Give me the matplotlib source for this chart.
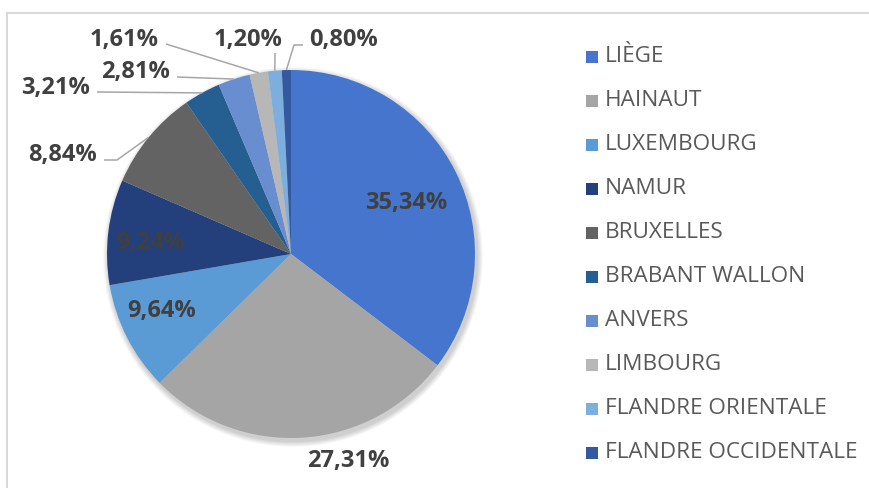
import numpy as np
import matplotlib
matplotlib.use('Agg')
from matplotlib import pyplot as plt
from matplotlib.patches import Rectangle, Circle

regions = ['LIÈGE', 'HAINAUT', 'LUXEMBOURG', 'NAMUR', 'BRUXELLES', 'BRABANT WALLON',
           'ANVERS', 'LIMBOURG', 'FLANDRE ORIENTALE', 'FLANDRE OCCIDENTALE']
shares = [35.34, 27.31, 9.64, 9.24, 8.84, 3.21, 2.81, 1.61, 1.20, 0.80]
share_labels = ['35,34%', '27,31%', '9,64%', '9,24%', '8,84%', '3,21%', '2,81%', '1,61%', '1,20%', '0,80%']
colors = ['#4675CD', '#A5A5A5', '#5B9BD5', '#233F7C', '#636363', '#255E91',
          '#698ED0', '#B7B7B7', '#7CAFDD', '#335AA1']

W, H = 870, 488
def py(y):
    return H - y

fig = plt.figure(figsize=(W/100, H/100), dpi=100)
ax = fig.add_axes([0, 0, 1, 1])

cx, cy, r = 291, py(254), 184

# soft shadow
for k in range(8):
    ax.add_patch(Circle((cx + 2, cy - 3), r + 1 + k * 0.7, color='black', alpha=0.025, lw=0))

wedges, _ = ax.pie(shares, colors=colors, startangle=90, counterclock=False,
                   center=(cx, cy), radius=r, frame=True)
ax.set_xlim(0, W)
ax.set_ylim(0, H)
ax.set_aspect('equal')
ax.axis('off')

# frame
ax.plot([7, W], [py(13), py(13)], color='#D9D9D9', lw=1.5)
ax.plot([7, 7], [py(13), 0], color='#D9D9D9', lw=1.5)

lbl_font = dict(family=['Open Sans', 'DejaVu Sans'], fontsize=17, fontweight='bold', color='#404040')

# labels inside / below the pie
inside = {0: (406, 203), 1: (348, 461), 2: (162, 311), 3: (151, 243)}
for i, (x, y) in inside.items():
    ax.text(x, py(y), share_labels[i], ha='center', va='center', **lbl_font)

# labels outside with leader lines
outside = {
    4: ((63, 155), [(104, 160), (117, 160)]),
    5: ((56, 88), [(97, 92)]),
    6: ((135, 72), [(177, 77)]),
    7: ((124, 40), [(166, 44)]),
    8: ((248, 40), [(275, 53)]),
    9: ((344, 40), [(303, 45), (294, 45)]),
}
for i, ((tx, ty), pts) in outside.items():
    ax.text(tx, py(ty), share_labels[i], ha='center', va='center', **lbl_font)
    w = wedges[i]
    mid = np.deg2rad((w.theta1 + w.theta2) / 2)
    ex, ey = cx + r * np.cos(mid), cy + r * np.sin(mid)
    xs = [p[0] for p in pts] + [ex]
    ys = [py(p[1]) for p in pts] + [ey]
    ax.plot(xs, ys, color='#A6A6A6', lw=1.1, solid_capstyle='butt')

# legend
for i, name in enumerate(regions):
    yc = 57 + i * 44.0
    ax.add_patch(Rectangle((586, py(yc) - 6), 12, 12, color=colors[i], lw=0))
    ax.text(605, py(yc), name, ha='left', va='center', fontsize=16.2,
            family=['Open Sans', 'DejaVu Sans'], color='#595959')

fig.savefig('out.png', dpi=100)
